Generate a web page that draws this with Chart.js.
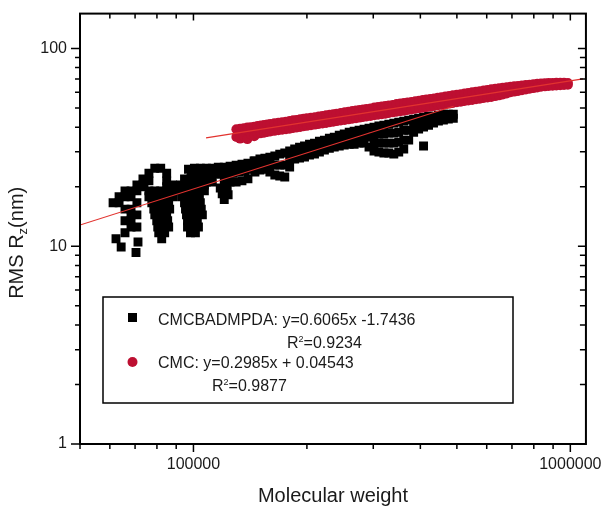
<!DOCTYPE html>
<html>
<head>
<meta charset="utf-8">
<script src="https://cdn.jsdelivr.net/npm/chart.js@4.4.1/dist/chart.umd.min.js"></script>
<style>
  html, body { margin: 0; padding: 0; background: #fff; }
  canvas { display: block; }
</style>
</head>
<body>
<canvas id="myChart" width="605" height="506"></canvas>
<script>
// values (x = molecular weight, y = RMS Rz in nm)
const cmcbadmpdaPoints = [
  // isolated low points
  [62300, 10.9], [64300, 9.9], [71260, 10.5], [70400, 9.3],
  // left arm
  [61200, 16.6], [63480, 16.6], [63480, 17.8], [65820, 17.8], [65820, 19.04], [68290, 19.04],
  [70790, 19.04], [70790, 20.4], [73410, 20.4], [68290, 17.8],
  // left column
  [65820, 15.4], [68290, 15.4], [70790, 16.6], [68290, 14.4], [70790, 14.4],
  [65820, 13.44], [68290, 13.44], [68290, 12.5], [70790, 12.5], [65820, 11.7],
  // first peak
  [76180, 23.4], [78960, 24.8], [81870, 24.8], [84910, 23.4], [73450, 21.9], [76180, 21.4],
  [84910, 21.4], [73900, 20.0], [84910, 20.0], [88050, 20.4],
  [76180, 19.04], [78960, 19.04], [81870, 19.04], [84910, 19.04], [88050, 19.04],
  [76180, 17.8], [78960, 17.8], [81870, 17.8], [84910, 17.8], [88050, 17.8],
  [77530, 16.6], [80400, 16.6], [83380, 16.6], [85950, 16.6],
  [78480, 15.4], [81380, 15.4], [84400, 15.4], [86480, 15.4],
  [78960, 14.4], [81870, 14.4], [84910, 14.4],
  [79910, 13.44], [82870, 13.44], [85430, 13.44],
  [80400, 12.5], [83380, 12.5], [85950, 12.5],
  [80890, 11.7], [83880, 11.7], [82370, 10.9],
  // second column
  [94690, 21.9], [98200, 21.9], [101800, 21.9], [105600, 21.9],
  [92430, 20.4], [95840, 20.4], [99400, 20.4], [103100, 20.4], [106900, 20.4],
  [92430, 19.04], [95840, 19.04], [99400, 19.04], [103100, 19.04], [106900, 19.04],
  [92990, 17.8], [96430, 17.8], [100000, 17.8], [103700, 17.8],
  [94690, 16.6], [97010, 16.6], [100600, 16.6], [104300, 16.6],
  [95260, 15.4], [97610, 15.4], [101200, 15.4], [104900, 15.4],
  [95840, 14.4], [98200, 14.4], [101800, 14.4], [105600, 14.4],
  [96430, 13.44], [98800, 13.44], [102400, 13.44],
  [96430, 12.5], [100000, 12.5], [103100, 12.5],
  [98200, 11.7], [101200, 11.7],
  // upper band
  [97010, 24.5], [100600, 24.8], [104300, 24.8], [108200, 24.8], [112200, 24.8], [116400, 25.1],
  [120700, 25.1], [125100, 25.4], [129800, 25.7], [134500, 26.0], [139500, 26.3], [144800, 26.96],
  [98800, 22.9], [102400, 22.9], [106200, 22.9], [110100, 22.9], [114300, 23.2], [118500, 23.2],
  [122900, 23.2], [127400, 23.4], [132100, 23.7], [137000, 24.0], [142100, 24.5],
  [108200, 21.1], [112200, 21.1], [120700, 21.1], [125100, 21.1], [129800, 21.1],
  [134500, 21.4], [139500, 21.9],
  [117800, 19.7], [122900, 19.7], [119200, 18.4], [123600, 18.2], [120700, 17.2],
  // main band
  [145600, 26.96], [145600, 25.4], [145600, 23.7],
  [150100, 27.6], [150100, 25.7], [150100, 24.3],
  [154700, 27.9], [154700, 26.3], [154700, 24.5],
  [159500, 28.2], [159500, 26.0], [159500, 23.7],
  [164400, 28.6], [164400, 25.7], [164400, 22.9],
  [169400, 29.2], [169400, 25.7], [169400, 22.65],
  [174700, 29.6], [174700, 25.7], [174700, 22.4],
  [180000, 30.3], [180000, 27.6], [180000, 25.1],
  [185600, 31.0], [185600, 29.2], [185600, 27.6],
  [191200, 31.7], [191200, 29.9], [191200, 27.9],
  [197100, 32.1], [197100, 30.3], [197100, 28.2],
  [203200, 32.8], [203200, 30.6], [203200, 28.9],
  [209500, 33.2], [209500, 31.3], [209500, 29.2],
  [215900, 34.0], [215900, 32.1], [215900, 29.9],
  [222600, 34.4], [222600, 32.5], [222600, 30.6],
  [229400, 35.2], [229400, 33.2], [229400, 31.3],
  [236400, 35.6], [236400, 33.6], [236400, 31.7],
  [243700, 36.4], [243700, 34.4], [243700, 32.1],
  [251200, 36.9], [251200, 34.8], [251200, 32.5],
  [259000, 37.7], [259000, 35.2], [259000, 32.8],
  [266900, 38.2], [266900, 35.6], [266900, 32.8],
  [275100, 38.6], [275100, 36.0], [275100, 33.2],
  [283600, 39.1], [283600, 36.0], [283600, 33.2],
  [292300, 39.5], [292300, 35.6], [292300, 31.7],
  [301300, 40.0], [301300, 36.4], [301300, 33.2], [301300, 30.3],
  [310500, 40.5], [310500, 36.9], [310500, 33.2], [310500, 29.9],
  [320100, 40.9], [320100, 36.9], [320100, 33.2], [320100, 29.6],
  [329900, 41.4], [329900, 37.3], [329900, 33.2], [329900, 29.6],
  [340100, 41.9], [340100, 37.3], [340100, 33.2], [340100, 29.2],
  [350500, 42.4], [350500, 37.7], [350500, 33.6], [350500, 29.9],
  [361400, 42.9], [361400, 38.6], [361400, 34.4], [361400, 31.0],
  [372500, 43.4], [372500, 38.6], [372500, 34.4],
  [383900, 43.9], [383900, 40.9], [383900, 37.7],
  [395800, 44.4], [395800, 41.9], [395800, 39.1],
  [407900, 44.9], [407900, 42.4], [407900, 40.0], [407900, 32.1],
  [420500, 45.4], [420500, 43.4], [420500, 40.9],
  [433500, 45.4], [433500, 41.9],
  [446700, 46.0], [446700, 42.9],
  [460500, 46.5], [460500, 43.4],
  [474600, 46.5], [474600, 43.9],
  [489200, 46.5], [489200, 44.4]
];

// CMC: upper and lower edge of the dense band at each molecular weight
const cmcX = [
  130000, 133000, 136000, 139000, 142000, 145000, 148000, 151000, 154000, 157000,
  160000, 164000, 168000, 172000, 176000, 180000, 184000, 188000, 192000, 196000,
  200000, 205000, 210000, 215000, 220000, 225000, 230000, 235000, 240000, 246000,
  252000, 258000, 264000, 270000, 276000, 282000, 288000, 295000, 302000, 309000,
  316000, 323000, 330000, 338000, 346000, 354000, 362000, 370000, 379000, 388000,
  397000, 406000, 415000, 425000, 435000, 445000, 455000, 466000, 477000, 488000,
  500000, 512000, 524000, 536000, 549000, 562000, 575000, 589000, 603000, 617000,
  632000, 647000, 662000, 678000, 694000, 710000, 727000, 744000, 762000, 780000,
  798000, 817000, 836000, 856000, 876000, 897000, 918000, 940000, 962000, 985000
];
const cmcUpperY = [
  39.0, 39.2, 39.5, 39.8, 40.0, 40.2, 40.5, 40.8, 41.0, 41.3,
  41.5, 41.8, 42.1, 42.4, 42.6, 42.9, 43.3, 43.5, 43.8, 44.1,
  44.3, 44.6, 44.9, 45.3, 45.6, 45.9, 46.2, 46.5, 46.8, 47.1,
  47.5, 47.9, 48.2, 48.5, 48.8, 49.1, 49.4, 49.7, 50.2, 50.5,
  50.8, 51.2, 51.5, 51.8, 52.3, 52.6, 52.9, 53.3, 53.6, 54.0,
  54.4, 54.8, 55.1, 55.5, 55.9, 56.3, 56.6, 57.1, 57.5, 57.9,
  58.3, 58.7, 59.1, 59.5, 60.0, 60.4, 60.8, 61.2, 61.7, 62.1,
  62.5, 62.9, 63.3, 63.7, 64.0, 64.3, 64.6, 65.0, 65.3, 65.6,
  65.9, 66.2, 66.4, 66.6, 66.8, 66.9, 67.0, 67.0, 67.0, 66.8
];
const cmcLowerY = [
  35.7, 35.0, 36.2, 34.8, 36.7, 36.0, 37.1, 37.3, 37.5, 37.8,
  38.0, 38.3, 38.6, 38.8, 39.0, 39.3, 39.6, 39.8, 40.1, 40.4,
  40.6, 40.9, 41.2, 41.5, 41.7, 42.0, 42.3, 42.6, 42.9, 43.2,
  43.5, 43.8, 44.1, 44.4, 44.7, 45.0, 45.3, 45.6, 45.9, 46.2,
  46.5, 46.8, 47.2, 47.5, 47.9, 48.1, 48.4, 48.8, 49.1, 49.5,
  49.9, 50.1, 50.5, 50.8, 51.2, 51.6, 51.9, 52.3, 52.6, 53.0,
  53.4, 53.8, 54.2, 54.5, 54.9, 55.3, 55.7, 56.1, 56.5, 56.8,
  57.4, 57.9, 58.5, 59.2, 60.0, 60.5, 61.0, 61.5, 62.0, 62.6,
  63.0, 63.5, 64.0, 64.3, 64.6, 64.8, 65.0, 65.2, 65.4, 65.5
];

// fitted power-law lines (end points)
const fitBlackX = [50000, 490000];
const fitBlackY = [12.8, 51.0];
const fitRedX = [108000, 1080000];
const fitRedY = [35.3, 70.2];

// axis ticks
const xTicks = [50000, 60000, 70000, 80000, 90000, 100000, 200000, 300000, 400000, 500000,
  600000, 700000, 800000, 900000, 1000000];
const xMajor = [100000, 1000000];
const yTicks = [1, 2, 3, 4, 5, 6, 7, 8, 9, 10, 20, 30, 40, 50, 60, 70, 80, 90, 100];
const yMajor = [1, 10, 100];

const legendText = ['CMCBADMPDA: y=0.6065x -1.7436', 'CMC: y=0.2985x + 0.04543'];
const legendR2 = ['0.9234', '0.9877'];

const redColor = '#bd0f31';
const lineColor = '#e2332f';
const textColor = '#1a1a1a';
const fontFamily = '"Liberation Sans", Arial, sans-serif';

function pairs(xs, ys) {
  return xs.map((x, i) => ({ x: x, y: ys[i] }));
}

// frame + tick marks on all four sides, axis titles
const frameTicks = {
  id: 'frameTicks',
  afterDraw(chart) {
    const { ctx, chartArea: a, scales } = chart;
    ctx.save();
    ctx.strokeStyle = '#000';
    ctx.lineWidth = 1.5;
    ctx.beginPath();
    scales.x.ticks.forEach(t => {
      const px = scales.x.getPixelForValue(t.value);
      const major = xMajor.includes(t.value);
      ctx.moveTo(px, a.bottom);
      ctx.lineTo(px, a.bottom + (major ? 8 : 5));
      ctx.moveTo(px, a.top);
      ctx.lineTo(px, a.top + (major ? 7 : 5));
    });
    scales.y.ticks.forEach(t => {
      const py = scales.y.getPixelForValue(t.value);
      const major = yMajor.includes(t.value);
      ctx.moveTo(a.left - (major ? 9 : 5), py);
      ctx.lineTo(a.left, py);
      ctx.moveTo(a.right - (major ? 8 : 6), py);
      ctx.lineTo(a.right, py);
    });
    ctx.stroke();
    ctx.lineWidth = 2;
    ctx.strokeRect(a.left, a.top, a.right - a.left, a.bottom - a.top);

    ctx.fillStyle = textColor;
    ctx.textBaseline = 'alphabetic';
    ctx.font = '20px ' + fontFamily;
    ctx.textAlign = 'center';
    ctx.fillText('Molecular weight', (a.left + a.right) / 2, 502);

    ctx.save();
    ctx.translate(23, (a.top + a.bottom) / 2 + 14);
    ctx.rotate(-Math.PI / 2);
    ctx.textAlign = 'left';
    const big = '20px ' + fontFamily, small = '13px ' + fontFamily;
    ctx.font = big;
    const w1 = ctx.measureText('RMS R').width;
    const w3 = ctx.measureText('(nm)').width;
    ctx.font = small;
    const w2 = ctx.measureText('z').width;
    const x0 = -(w1 + w2 + w3) / 2;
    ctx.font = big;
    ctx.fillText('RMS R', x0, 0);
    ctx.font = small;
    ctx.fillText('z', x0 + w1, 4);
    ctx.font = big;
    ctx.fillText('(nm)', x0 + w1 + w2, 0);
    ctx.restore();

    ctx.restore();
  }
};

function drawR2(ctx, val, x, y) {
  ctx.font = '16px ' + fontFamily;
  ctx.fillText('R', x, y);
  const w = ctx.measureText('R').width;
  ctx.font = '9px ' + fontFamily;
  ctx.fillText('2', x + w, y - 6);
  ctx.font = '16px ' + fontFamily;
  ctx.fillText('=' + val, x + w + 5, y);
}

// boxed legend with the fit equations
const boxLegend = {
  id: 'boxLegend',
  afterDraw(chart) {
    const ctx = chart.ctx;
    ctx.save();
    ctx.fillStyle = '#fff';
    ctx.fillRect(103, 297, 410, 106);
    ctx.strokeStyle = '#000';
    ctx.lineWidth = 1.5;
    ctx.strokeRect(103, 297, 410, 106);
    ctx.fillStyle = '#000';
    ctx.fillRect(128, 313, 9, 9);
    ctx.fillStyle = redColor;
    ctx.beginPath();
    ctx.arc(132.5, 362, 5, 0, 2 * Math.PI);
    ctx.fill();
    ctx.fillStyle = textColor;
    ctx.textBaseline = 'alphabetic';
    ctx.textAlign = 'left';
    ctx.font = '16px ' + fontFamily;
    ctx.fillText(legendText[0], 158, 325);
    drawR2(ctx, legendR2[0], 287, 348);
    ctx.font = '16px ' + fontFamily;
    ctx.fillText(legendText[1], 158, 368);
    drawR2(ctx, legendR2[1], 212, 391);
    ctx.restore();
  }
};

const config = {
  type: 'scatter',
  data: {
    datasets: [
      {
        label: 'CMCBADMPDA fit',
        type: 'line',
        data: pairs(fitBlackX, fitBlackY),
        borderColor: lineColor,
        borderWidth: 1.2,
        pointRadius: 0,
        order: 0
      },
      {
        label: 'CMC fit',
        type: 'line',
        data: pairs(fitRedX, fitRedY),
        borderColor: lineColor,
        borderWidth: 1.2,
        pointRadius: 0,
        order: 0
      },
      {
        label: 'CMC',
        data: pairs(cmcX, cmcUpperY).concat(pairs(cmcX, cmcLowerY)),
        pointStyle: 'circle',
        pointRadius: 5,
        pointBorderWidth: 0,
        backgroundColor: redColor,
        borderColor: redColor,
        order: 1
      },
      {
        label: 'CMCBADMPDA',
        data: cmcbadmpdaPoints.map(p => ({ x: p[0], y: p[1] })),
        pointStyle: 'rect',
        pointRadius: 6.3,
        pointBorderWidth: 0,
        backgroundColor: '#000',
        borderColor: '#000',
        order: 2
      }
    ]
  },
  options: {
    responsive: false,
    animation: false,
    devicePixelRatio: 1,
    layout: { padding: { top: 13, right: 17, left: 0, bottom: 0 } },
    plugins: {
      legend: { display: false },
      tooltip: { enabled: false }
    },
    scales: {
      x: {
        type: 'logarithmic',
        min: 50000,
        max: 1100000,
        afterBuildTicks: s => { s.ticks = xTicks.map(v => ({ value: v })); },
        afterFit: s => { s.height = 62; },
        grid: { drawOnChartArea: false, color: 'rgba(0,0,0,0)', tickLength: 8 },
        border: { display: false },
        ticks: {
          autoSkip: false,
          maxRotation: 0,
          padding: 3,
          color: textColor,
          font: { family: fontFamily, size: 16 },
          callback: v => xMajor.includes(v) ? String(v) : ''
        }
      },
      y: {
        type: 'logarithmic',
        min: 1,
        max: 150,
        afterBuildTicks: s => { s.ticks = yTicks.map(v => ({ value: v })); },
        afterFit: s => { s.width = 80; },
        grid: { drawOnChartArea: false, color: 'rgba(0,0,0,0)', tickLength: 9 },
        border: { display: false },
        ticks: {
          autoSkip: false,
          padding: 4,
          color: textColor,
          font: { family: fontFamily, size: 16 },
          callback: v => yMajor.includes(v) ? String(v) : ''
        }
      }
    }
  },
  plugins: [frameTicks, boxLegend]
};

const ctx = document.getElementById('myChart').getContext('2d');
const myChart = new Chart(ctx, config);
</script>
</body>
</html>
